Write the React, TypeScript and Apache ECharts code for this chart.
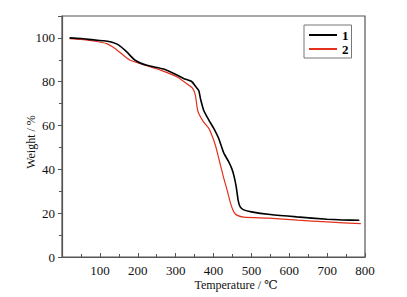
import React, { useEffect, useRef } from "react";
import * as echarts from "echarts";

const temps1 = [20, 50, 83, 110, 127, 149, 171, 193, 224, 268, 295, 321, 343, 352, 361, 366, 374, 388, 401, 414, 427, 440, 449, 454, 460, 465, 470, 480, 500, 550, 620, 700, 740, 785];
const weight1 = [100, 99.7, 99.1, 98.7, 98.2, 96.8, 93.6, 89.8, 87.5, 85.8, 83.8, 81.5, 80, 78, 76, 72, 67, 62.4, 58.6, 54, 47.5, 43.5, 40, 37, 32, 26, 23, 21.5, 20.6, 19.4, 18.3, 17.2, 16.9, 16.8];

const temps2 = [20, 50, 83, 118, 140, 162, 180, 215, 260, 304, 335, 345, 352, 357, 361, 374, 388, 397, 405, 414, 427, 436, 445, 454, 463, 480, 546, 622, 700, 789];
const weight2 = [99.7, 99.3, 98.6, 97.4, 95.2, 92.1, 89.8, 87.8, 85.3, 82.2, 78.4, 77, 74, 68, 65.5, 61.6, 58.6, 55, 51, 45, 36, 30.5, 24.5, 20.5, 19, 18.2, 17.7, 16.8, 16, 15.2];

const seriesNames = ["1", "2"];
const xTickLabels = [100, 200, 300, 400, 500, 600, 700, 800];
const yTickLabels = [0, 20, 40, 60, 80, 100];

const FONT = "'Liberation Serif', 'DejaVu Serif', serif";

export default function App() {
  const ref = useRef<HTMLDivElement>(null);
  useEffect(() => {
    if (!ref.current) return;
    const chart = echarts.init(ref.current, null, { renderer: "svg" });
    const pairs = (t: number[], w: number[]) => t.map((v, i) => [v, w[i]]);
    chart.setOption({
      animation: false,
      backgroundColor: "#ffffff",
      grid: {
        left: 62,
        right: 42,
        top: 16,
        bottom: 40,
        show: true,
        borderColor: "#555",
        borderWidth: 1.2,
      },
      legend: {
        orient: "vertical",
        left: 304,
        top: 25,
        padding: [3, 3, 2, 5],
        borderColor: "#777",
        borderWidth: 1,
        backgroundColor: "#fff",
        itemWidth: 28,
        itemHeight: 2,
        itemGap: 0,
        icon: "rect",
        data: seriesNames,
        textStyle: {
          fontFamily: FONT,
          fontSize: 13,
          fontWeight: "bold",
          color: "#000",
          lineHeight: 14,
        },
      },
      xAxis: {
        type: "value",
        min: 0,
        max: 800,
        interval: 100,
        axisLine: { lineStyle: { color: "#555", width: 1.2 } },
        axisTick: { inside: true, length: 4, lineStyle: { color: "#555" } },
        minorTick: { show: true, splitNumber: 2, length: 3, lineStyle: { color: "#555" } },
        splitLine: { show: false },
        axisLabel: {
          fontFamily: FONT,
          fontSize: 13,
          color: "#111",
          margin: 7,
          formatter: (v: number) => (xTickLabels.includes(v) ? String(v) : ""),
        },
      },
      yAxis: {
        type: "value",
        min: 0,
        max: 110,
        interval: 20,
        axisLine: { show: true, lineStyle: { color: "#555", width: 1.2 } },
        axisTick: { show: true, inside: false, length: 4, lineStyle: { color: "#555" } },
        minorTick: { show: true, splitNumber: 2, length: 3, lineStyle: { color: "#555" } },
        splitLine: { show: false },
        axisLabel: {
          fontFamily: FONT,
          fontSize: 13,
          color: "#111",
          margin: 7,
          formatter: (v: number) => (yTickLabels.includes(v) ? String(v) : ""),
        },
      },
      graphic: [
        {
          type: "text",
          x: 236,
          y: 285,
          style: {
            text: "Temperature / ℃",
            font: `12px ${FONT}`,
            fill: "#111",
            textAlign: "center",
            textVerticalAlign: "middle",
          },
        },
        {
          type: "text",
          x: 31,
          y: 142,
          rotation: Math.PI / 2,
          style: {
            text: "Weight / %",
            font: `12px ${FONT}`,
            fill: "#111",
            textAlign: "center",
            textVerticalAlign: "middle",
          },
        },
      ],
      series: [
        {
          name: seriesNames[0],
          type: "line",
          data: pairs(temps1, weight1),
          showSymbol: false,
          smooth: 0.2,
          lineStyle: { color: "#000", width: 1.6 },
          itemStyle: { color: "#000" },
          z: 3,
        },
        {
          name: seriesNames[1],
          type: "line",
          data: pairs(temps2, weight2),
          showSymbol: false,
          smooth: 0.2,
          lineStyle: { color: "#e3301c", width: 1.2 },
          itemStyle: { color: "#e3301c" },
          z: 2,
        },
      ],
    });
    return () => chart.dispose();
  }, []);
  return (
    <div
      ref={ref}
      style={{ position: "fixed", left: 0, top: 0, width: 407, height: 297 }}
    />
  );
}
